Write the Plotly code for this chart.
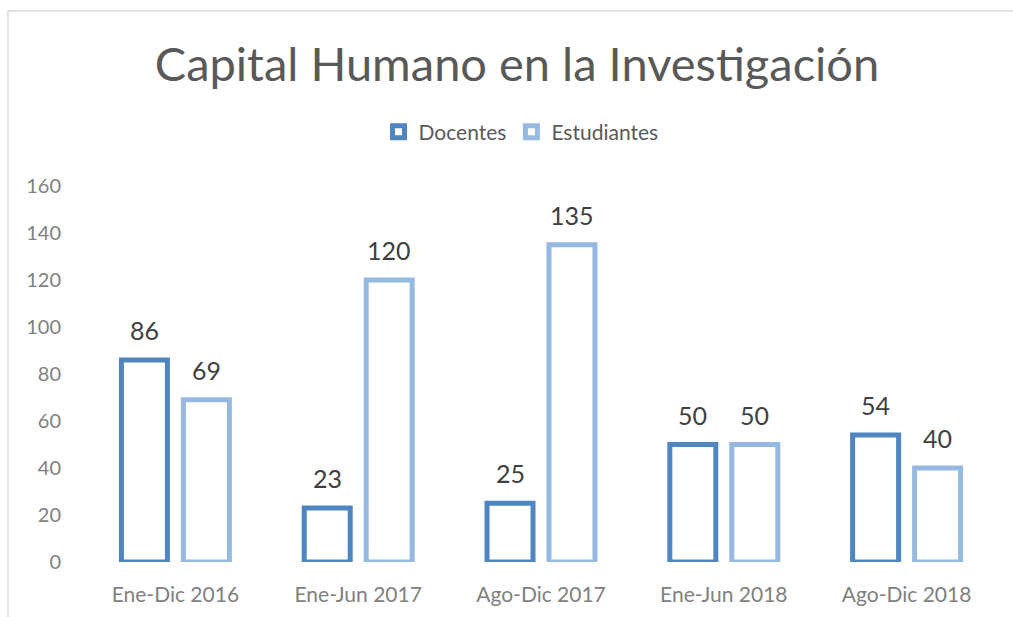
import plotly.graph_objects as go

categories = ["Ene-Dic 2016", "Ene-Jun 2017", "Ago-Dic 2017", "Ene-Jun 2018", "Ago-Dic 2018"]
docentes = [86, 23, 25, 50, 54]
estudiantes = [69, 120, 135, 50, 40]
y_ticks = [0, 20, 40, 60, 80, 100, 120, 140, 160]

C_DOC = "#4f86bf"
C_EST = "#96b9e1"
FONT = "Lato"

fig = go.Figure()
fig.add_trace(go.Bar(name="Docentes", x=categories, y=docentes,
                     marker=dict(color="white", line=dict(color=C_DOC, width=5))))
fig.add_trace(go.Bar(name="Estudiantes", x=categories, y=estudiantes,
                     marker=dict(color="white", line=dict(color=C_EST, width=5))))

for vals, shift in ((docentes, -31), (estudiantes, 31)):
    for c, v in zip(categories, vals):
        fig.add_annotation(x=c, y=v, text=str(v), showarrow=False, xshift=shift,
                           yshift=30, yanchor="middle",
                           font=dict(family=FONT, size=25, color="#404040"))

W, H = 1013, 617
L, R, T, B = 84, 15, 186, 55
pw, ph = W - L - R, H - T - B
# chart border (left and top edges)
fig.add_shape(type="line", xref="paper", yref="paper",
              x0=(8 - L) / pw, x1=(8 - L) / pw, y0=(H - B - 700) / ph, y1=(H - B - 11) / ph,
              line=dict(color="#d9d9d9", width=1.5))
fig.add_shape(type="line", xref="paper", yref="paper",
              x0=(8 - L) / pw, x1=(1100 - L) / pw, y0=(H - B - 11) / ph, y1=(H - B - 11) / ph,
              line=dict(color="#d9d9d9", width=1.5))

fig.update_layout(
    width=W, height=H,
    margin=dict(l=L, r=R, t=T, b=B),
    paper_bgcolor="white", plot_bgcolor="white",
    barmode="group", bargap=0.322, bargroupgap=0.258,
    title=dict(text="Capital Humano en la Investigación", xref="container", x=517 / W,
               xanchor="center", yref="container", y=1 - 65 / H, yanchor="middle",
               font=dict(family=FONT, size=47, color="#595959")),
    legend=dict(orientation="h", xref="container", x=521 / W, xanchor="center",
                yref="container", y=1 - 132 / H, yanchor="middle",
                font=dict(family=FONT, size=21, color="#595959"), itemwidth=30),
    showlegend=True,
    xaxis=dict(showgrid=False, showline=False, zeroline=False, ticks="",
               tickfont=dict(family=FONT, size=21, color="#808080"), ticklabelstandoff=18),
    yaxis=dict(range=[0, 160], tickvals=y_ticks, showgrid=False, showline=False,
               zeroline=False, ticks="",
               tickfont=dict(family=FONT, size=20, color="#808080"), ticklabelstandoff=22),
)

fig.write_html("out.html", config={"displayModeBar": False},
               post_script="document.body.style.margin='0';")
